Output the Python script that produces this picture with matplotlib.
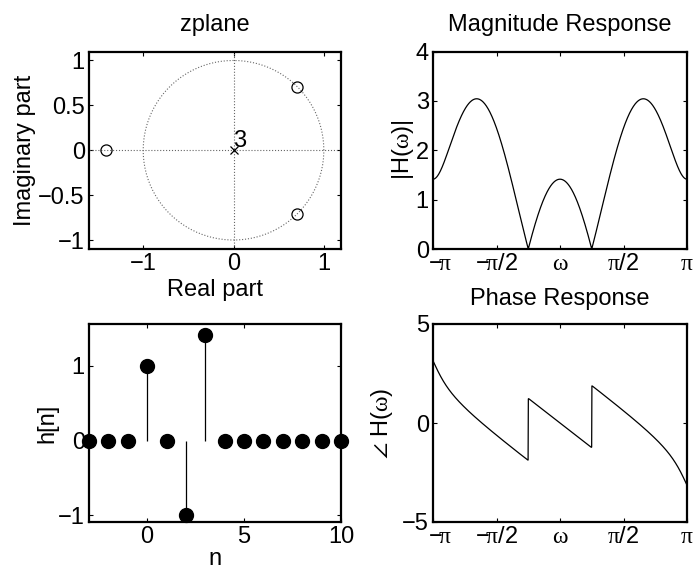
import numpy as np
import matplotlib
matplotlib.use("Agg")
import matplotlib.pyplot as plt
from matplotlib.transforms import ScaledTranslation

plt.rcParams['font.family'] = ['Liberation Sans', 'DejaVu Sans']
plt.rcParams['font.size'] = 17
plt.rcParams['axes.titlesize'] = 17
plt.rcParams['mathtext.fontset'] = 'custom'
plt.rcParams['mathtext.rm'] = 'Liberation Sans'
plt.rcParams['mathtext.it'] = 'Liberation Serif'
plt.rcParams['mathtext.fallback'] = 'stix'

# impulse response
n = np.arange(-3, 11)
h = [0, 0, 0, 1, 0, -1, 1.414, 0, 0, 0, 0, 0, 0, 0]

# pole / zero locations
zeros_re = [-1.414, 0.707, 0.707]
zeros_im = [0.0, 0.707, -0.707]
poles_re = [0.0]
poles_im = [0.0]
pole_count = '3'

freq_ticks = [-np.pi, -np.pi / 2, 0, np.pi / 2, np.pi]
freq_labels = [r'$-\!\pi$', r'$-\!\pi/2$', r'$\omega$', r'$\pi/2$', r'$\pi$']

# frequency response of h
w = np.linspace(-np.pi, np.pi, 1000)
H = np.zeros_like(w, dtype=complex)
for k, hk in zip(n, h):
    H += hk * np.exp(-1j * w * k)
mag = np.abs(H)
phase = np.angle(H)

fig = plt.figure(figsize=(6.94, 5.73), dpi=100)
W, Hpx = 694, 573


def make_ax(x0, y0, x1, y1):
    ax = fig.add_axes([x0 / W, 1 - y1 / Hpx, (x1 - x0) / W, (y1 - y0) / Hpx])
    for s in ax.spines.values():
        s.set_linewidth(1.6)
    ax.tick_params(direction='in', top=True, right=True, length=3, width=0.8, pad=3)
    return ax


def freq_axis(ax):
    ax.set_xlim(-np.pi, np.pi)
    ax.set_xticks(freq_ticks)
    ax.set_xticklabels(freq_labels)
    # MATLAB puts the first label a bit to the right of the corner
    lab = ax.get_xticklabels()[0]
    lab.set_transform(lab.get_transform() + ScaledTranslation(7 / 100, 0, fig.dpi_scale_trans))


ax1 = make_ax(89, 51.5, 341, 249)
ax2 = make_ax(433, 51.5, 687, 249)
ax3 = make_ax(89, 324, 341, 522)
ax4 = make_ax(433, 324, 687, 522)

# zplane
t = np.linspace(0, 2 * np.pi, 200)
ax1.plot(np.cos(t), np.sin(t), ':', color='0.4', lw=0.8)
ax1.axhline(0, ls=':', color='0.4', lw=0.8)
ax1.axvline(0, ls=':', color='0.4', lw=0.8)
ax1.plot(zeros_re, zeros_im, 'o', mfc='none', mec='k', ms=8, mew=0.9)
ax1.plot(poles_re, poles_im, 'x', color='k', ms=6, mew=0.9)
ax1.text(0.0, 0.04, pole_count, ha='left', va='baseline')
ax1.set_xlim(-1.6, 1.19)
ax1.set_ylim(-1.1, 1.1)
ax1.set_xticks([-1, 0, 1])
ax1.set_yticks([-1, -0.5, 0, 0.5, 1])
ax1.set_yticklabels(['\u22121', '\u22120.5', '0', '0.5', '1'])
ax1.set_xlabel('Real part', labelpad=3)
ax1.set_ylabel('Imaginary part', labelpad=2)
ax1.set_title('zplane', pad=15)

# magnitude
ax2.plot(w, mag, 'k-', lw=0.9)
ax2.set_ylim(0, 4)
ax2.set_yticks([0, 1, 2, 3, 4])
freq_axis(ax2)
ax2.set_ylabel(r'$\mathrm{|H(}\omega\mathrm{)|}$', labelpad=0)
ax2.set_title('Magnitude Response', pad=15)

# stem
ml, sl, bl = ax3.stem(n, h, linefmt='k-', markerfmt='ko', basefmt=' ')
ml.set_markersize(10)
ml.set_clip_on(False)
sl.set_linewidth(0.9)
ax3.set_xlim(-3, 10)
ax3.set_ylim(-1.09, 1.56)
ax3.set_xticks([0, 5, 10])
ax3.set_yticks([-1, 0, 1])
ax3.set_xlabel('n', labelpad=0)
ax3.set_ylabel('h[n]', labelpad=0)

# phase
ax4.plot(w, phase, 'k-', lw=0.9)
ax4.set_ylim(-5, 5)
ax4.set_yticks([-5, 0, 5])
freq_axis(ax4)
ax4.set_ylabel(r'$\angle\ \mathrm{H(}\omega\mathrm{)}$', labelpad=5)
ax4.set_title('Phase Response', pad=14)

fig.savefig('out.png', dpi=100)
